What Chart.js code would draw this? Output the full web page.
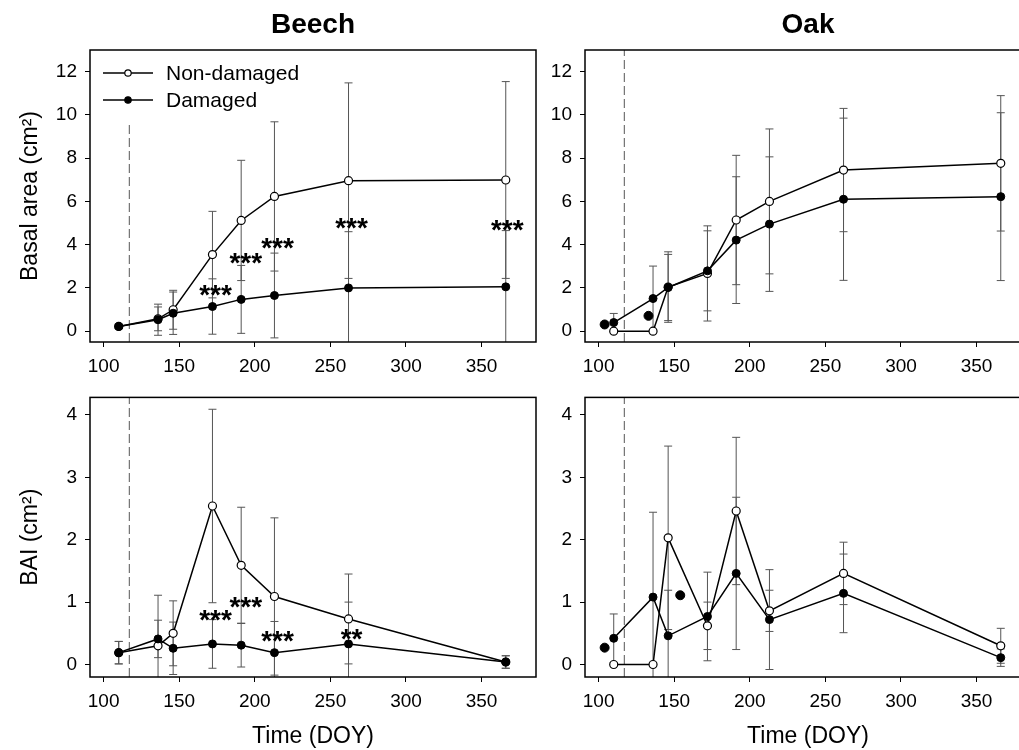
<!DOCTYPE html>
<html>
<head>
<meta charset="utf-8">
<title>Beech and Oak - basal area and BAI</title>
<script src="https://cdn.jsdelivr.net/npm/chart.js@4/dist/chart.umd.min.js"></script>
<style>
  body { margin: 0; background: #fff; width: 1019px; height: 750px; overflow: hidden; position: relative; }
  canvas { position: absolute; }
</style>
</head>
<body>
<canvas id="tl" width="545" height="378" style="left:0;top:0"></canvas>
<canvas id="tr" width="500" height="378" style="left:545px;top:0"></canvas>
<canvas id="bl" width="545" height="372" style="left:0;top:378px"></canvas>
<canvas id="br" width="500" height="372" style="left:545px;top:378px"></canvas>
<script>
// sampling days (DOY)
var doy = [110, 136, 146, 172, 191, 213, 262, 366];
var xTicks = [100, 150, 200, 250, 300, 350];
var basalTicks = [0, 2, 4, 6, 8, 10, 12];
var baiTicks = [0, 1, 2, 3, 4];
var treatDoy = 117;
var legendLabels = ['Non-damaged', 'Damaged'];

// Beech - basal area
var beechBasalNon   = [0.22, 0.57, 0.99, 3.54, 5.12, 6.23, 6.96, 6.99];
var beechBasalNonSd = [0.1, 0.55, 0.9, 2.0, 2.78, 3.45, 4.52, 4.55];
var beechBasalDam   = [0.22, 0.53, 0.83, 1.14, 1.47, 1.65, 2.0, 2.05];
var beechBasalDamSd = [0.1, 0.72, 0.98, 1.28, 1.57, 1.96, 2.6, 2.6];
// Beech - BAI
var beechBaiNon   = [0.19, 0.30, 0.50, 2.54, 1.59, 1.09, 0.73, 0.04];
var beechBaiNonSd = [0.18, 0.81, 0.52, 1.55, 0.93, 1.26, 0.72, 0.1];
var beechBaiDam   = [0.19, 0.41, 0.26, 0.33, 0.31, 0.19, 0.33, 0.04];
var beechBaiDamSd = [0.18, 0.3, 0.42, 0.39, 0.35, 0.5, 0.67, 0.1];

// Oak - basal area
var oakBasalNon   = [0, 0, 2.04, 2.67, 5.14, 6.0, 7.45, 7.76];
var oakBasalNonSd = [0, 0, 1.63, 2.2, 2.99, 3.35, 2.85, 3.13];
var oakBasalDam   = [0.40, 1.51, 2.02, 2.79, 4.21, 4.95, 6.1, 6.22];
var oakBasalDamSd = [0.42, 1.5, 1.53, 1.85, 2.93, 3.11, 3.75, 3.88];
var oakBasalExtraDoy = [104, 133];
var oakBasalExtra    = [0.31, 0.71];
// Oak - BAI
var oakBaiNon   = [0, 0, 2.03, 0.62, 2.46, 0.86, 1.46, 0.30];
var oakBaiNonSd = [0, 0, 1.47, 0.38, 1.18, 0.33, 0.5, 0.28];
var oakBaiDam   = [0.42, 1.08, 0.46, 0.77, 1.46, 0.72, 1.14, 0.11];
var oakBaiDamSd = [0.39, 1.36, 0.73, 0.71, 1.22, 0.8, 0.63, 0.14];
var oakBaiExtraDoy = [104, 154];
var oakBaiExtra    = [0.27, 1.11];

// significance marks
var beechBasalStarDoy = [174, 194, 215, 264, 367];
var beechBasalStarY   = [2.0, 3.5, 4.17, 5.1, 5.0];
var beechBasalStars   = ['***', '***', '***', '***', '***'];
var beechBaiStarDoy = [174, 194, 215, 264];
var beechBaiStarY   = [0.82, 1.04, 0.49, 0.53];
var beechBaiStars   = ['***', '***', '***', '**'];

var FONT = '"Liberation Sans", Arial, sans-serif';
Chart.defaults.font.family = FONT;
Chart.defaults.color = '#000';

function pts(xs, ys) {
  return xs.map(function (x, i) { return { x: x, y: ys[i] }; });
}

var errorBars = {
  id: 'errorBars',
  beforeDatasetsDraw: function (chart) {
    var ctx = chart.ctx, xs = chart.scales.x, ys = chart.scales.y, a = chart.chartArea;
    ctx.save();
    ctx.beginPath();
    ctx.rect(a.left, a.top, a.right - a.left, a.bottom - a.top);
    ctx.clip();
    ctx.strokeStyle = '#555';
    ctx.lineWidth = 1;
    chart.data.datasets.forEach(function (ds) {
      if (!ds.sd) return;
      ds.data.forEach(function (p, i) {
        var e = ds.sd[i];
        if (!e) return;
        var x = xs.getPixelForValue(p.x);
        var y1 = ys.getPixelForValue(p.y + e), y2 = ys.getPixelForValue(p.y - e);
        ctx.beginPath();
        ctx.moveTo(x, y1); ctx.lineTo(x, y2);
        ctx.moveTo(x - 4, y1); ctx.lineTo(x + 4, y1);
        ctx.moveTo(x - 4, y2); ctx.lineTo(x + 4, y2);
        ctx.stroke();
      });
    });
    ctx.restore();
  }
};

var frame = {
  id: 'frame',
  afterDraw: function (chart) {
    var a = chart.chartArea, ctx = chart.ctx;
    ctx.save();
    ctx.strokeStyle = '#000';
    ctx.lineWidth = 1.5;
    ctx.strokeRect(a.left, a.top, a.right - a.left, a.bottom - a.top);
    ctx.restore();
  }
};

// legend drawn inside the plot area, upper left
var insideLegend = {
  id: 'insideLegend',
  afterDraw: function (chart) {
    var a = chart.chartArea, ctx = chart.ctx;
    ctx.save();
    ctx.font = '21px ' + FONT;
    ctx.textBaseline = 'middle';
    ctx.fillStyle = '#000';
    legendLabels.forEach(function (t, i) {
      var y = a.top + 23 + i * 27, x0 = a.left + 13;
      ctx.strokeStyle = '#000';
      ctx.lineWidth = 1.5;
      ctx.beginPath(); ctx.moveTo(x0, y); ctx.lineTo(x0 + 50, y); ctx.stroke();
      ctx.beginPath(); ctx.arc(x0 + 25, y, 3.2, 0, Math.PI * 2);
      ctx.fillStyle = i === 0 ? '#fff' : '#000';
      ctx.fill(); ctx.lineWidth = 1.2; ctx.stroke();
      ctx.fillStyle = '#000';
      ctx.fillText(t, x0 + 63, y + 1);
    });
    ctx.restore();
  }
};

function starsPlugin(xs, ys, labels) {
  return {
    id: 'stars',
    afterDatasetsDraw: function (chart) {
      var ctx = chart.ctx, sx = chart.scales.x, sy = chart.scales.y;
      var size = 28;
      ctx.save();
      ctx.fillStyle = '#000';
      ctx.font = 'bold ' + size + 'px ' + FONT;
      ctx.textAlign = 'center';
      ctx.textBaseline = 'alphabetic';
      labels.forEach(function (t, i) {
        ctx.fillText(t, sx.getPixelForValue(xs[i]), sy.getPixelForValue(ys[i]) + size * 0.575);
      });
      ctx.restore();
    }
  };
}

function makeChart(id, o) {
  // damaged gets order 0 so its filled markers sit on top of the open ones
  var datasets = [
    { data: pts(doy, o.dam), sd: o.damSd, order: 0, borderColor: '#000', borderWidth: 1.5,
      pointRadius: 4, pointBorderWidth: 1, pointBackgroundColor: '#000', pointBorderColor: '#000' },
    { data: pts(doy, o.non), sd: o.nonSd, order: 1, borderColor: '#000', borderWidth: 1.5,
      pointRadius: 4, pointBorderWidth: 1.2, pointBackgroundColor: '#fff', pointBorderColor: '#000' }
  ];
  if (o.extraX) {
    datasets.push({ data: pts(o.extraX, o.extra), order: 0, showLine: false, pointRadius: 4.5,
      pointBackgroundColor: '#000', pointBorderColor: '#000', borderColor: '#000' });
  }
  datasets.push({ data: [{ x: treatDoy, y: o.yMin }, { x: treatDoy, y: o.dashTop }], order: 2,
    borderColor: '#555', borderWidth: 1, borderDash: [9, 4], pointRadius: 0 });

  var plugins = [errorBars, frame];
  if (o.stars) plugins.push(starsPlugin(o.starX, o.starY, o.stars));
  if (o.legend) plugins.push(insideLegend);

  return new Chart(document.getElementById(id), {
    type: 'line',
    data: { datasets: datasets },
    plugins: plugins,
    options: {
      responsive: false,
      animation: false,
      devicePixelRatio: 1,
      events: [],
      layout: { padding: o.pad },
      plugins: {
        tooltip: { enabled: false },
        legend: { display: false },
        title: {
          display: !!o.title, text: o.title, fullSize: false, color: '#000',
          font: { size: 28, weight: 'bold' }, padding: { top: 8, bottom: 8.4 }
        }
      },
      scales: {
        x: {
          type: 'linear', min: 91, max: 386,
          afterBuildTicks: function (s) { s.ticks = xTicks.map(function (v) { return { value: v }; }); },
          afterFit: function (s) { s.height = o.xH; },
          grid: { drawOnChartArea: false, tickLength: 5, color: '#000', lineWidth: 1 },
          border: { display: false },
          ticks: { color: '#000', font: { size: 19 }, padding: 8, maxRotation: 0, autoSkip: false },
          title: o.xTitle ? { display: true, text: o.xTitle, color: '#000', font: { size: 23 }, padding: { top: 0, bottom: 0 } } : { display: false }
        },
        y: {
          min: o.yMin, max: o.yMax,
          afterBuildTicks: function (s) { s.ticks = o.yTicks.map(function (v) { return { value: v }; }); },
          afterFit: function (s) { s.width = o.yW; },
          grid: { drawOnChartArea: false, tickLength: 5, color: '#000', lineWidth: 1 },
          border: { display: false },
          ticks: { color: '#000', font: { size: 19 }, padding: 8 },
          title: o.yTitle ? { display: true, text: o.yTitle, color: '#000', font: { size: 23 }, padding: { top: 17, bottom: 0 } } : { display: false }
        }
      }
    }
  });
}

makeChart('tl', {
  title: 'Beech', yTitle: 'Basal area (cm²)', legend: true,
  non: beechBasalNon, nonSd: beechBasalNonSd, dam: beechBasalDam, damSd: beechBasalDamSd,
  yMin: -0.5, yMax: 13, yTicks: basalTicks, dashTop: 9.7,
  starX: beechBasalStarDoy, starY: beechBasalStarY, stars: beechBasalStars,
  yW: 90, xH: 36, pad: { right: 9 }
});
makeChart('tr', {
  title: 'Oak',
  non: oakBasalNon, nonSd: oakBasalNonSd, dam: oakBasalDam, damSd: oakBasalDamSd,
  extraX: oakBasalExtraDoy, extra: oakBasalExtra,
  yMin: -0.5, yMax: 13, yTicks: basalTicks, dashTop: 13,
  yW: 40, xH: 36, pad: { right: 14 }
});
makeChart('bl', {
  yTitle: 'BAI (cm²)', xTitle: 'Time (DOY)',
  non: beechBaiNon, nonSd: beechBaiNonSd, dam: beechBaiDam, damSd: beechBaiDamSd,
  yMin: -0.2, yMax: 4.28, yTicks: baiTicks, dashTop: 4.28,
  starX: beechBaiStarDoy, starY: beechBaiStarY, stars: beechBaiStars,
  yW: 90, xH: 73, pad: { top: 8, right: 9 }
});
makeChart('br', {
  xTitle: 'Time (DOY)',
  non: oakBaiNon, nonSd: oakBaiNonSd, dam: oakBaiDam, damSd: oakBaiDamSd,
  extraX: oakBaiExtraDoy, extra: oakBaiExtra,
  yMin: -0.2, yMax: 4.28, yTicks: baiTicks, dashTop: 4.28,
  yW: 40, xH: 73, pad: { top: 8, right: 14 }
});
</script>
</body>
</html>
